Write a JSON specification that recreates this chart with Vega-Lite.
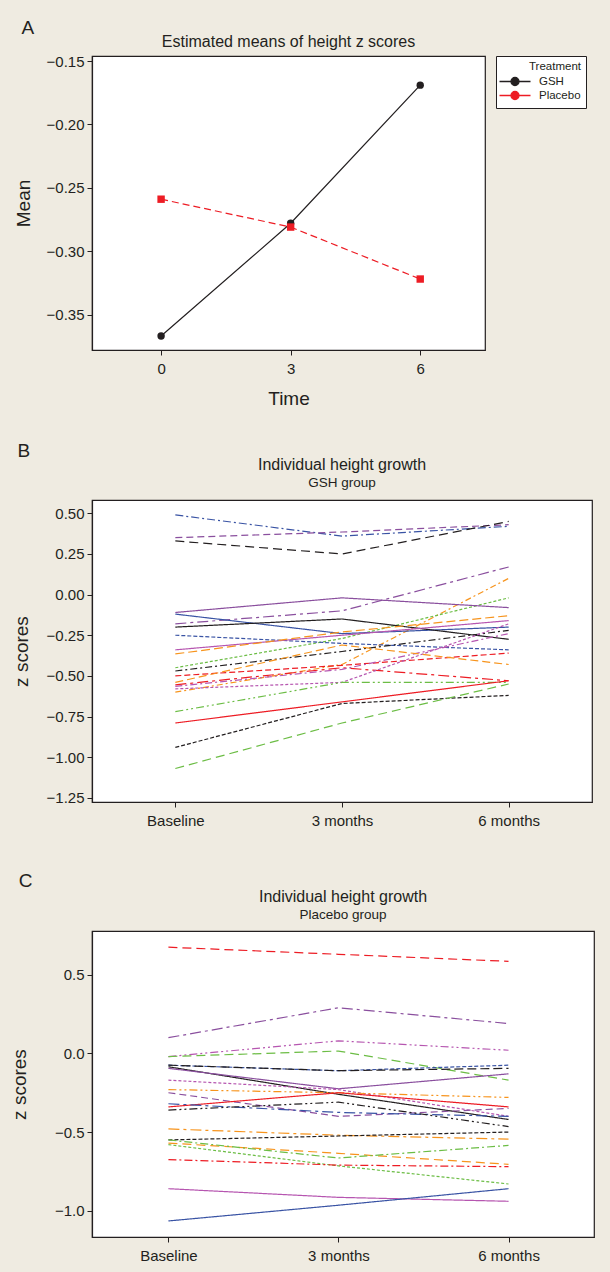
{
  "$schema": "https://vega.github.io/schema/vega-lite/v6.json",
  "background": "#efebe1",
  "padding": {"left": 9, "top": 19, "right": 15, "bottom": 8},
  "autosize": {"type": "pad"},
  "columns": 1,
  "spacing": 32,
  "resolve": {"scale": {"color": "independent", "strokeDash": "independent"}, "legend": {"color": "independent", "strokeDash": "independent"}},
  "datasets": {
    "means": [
      {"treatment": "GSH", "time": 0, "mean": -0.367},
      {"treatment": "GSH", "time": 3, "mean": -0.278},
      {"treatment": "GSH", "time": 6, "mean": -0.169},
      {"treatment": "Placebo", "time": 0, "mean": -0.259},
      {"treatment": "Placebo", "time": 3, "mean": -0.281},
      {"treatment": "Placebo", "time": 6, "mean": -0.322}
    ],
    "gsh": [
      {"id": "b01", "time": "Baseline", "z": 0.49}, {"id": "b01", "time": "3 months", "z": 0.36}, {"id": "b01", "time": "6 months", "z": 0.42},
      {"id": "b02", "time": "Baseline", "z": 0.35}, {"id": "b02", "time": "3 months", "z": 0.385}, {"id": "b02", "time": "6 months", "z": 0.43},
      {"id": "b03", "time": "Baseline", "z": 0.33}, {"id": "b03", "time": "3 months", "z": 0.25}, {"id": "b03", "time": "6 months", "z": 0.45},
      {"id": "b04", "time": "Baseline", "z": -0.18}, {"id": "b04", "time": "3 months", "z": -0.1}, {"id": "b04", "time": "6 months", "z": 0.17},
      {"id": "b05", "time": "Baseline", "z": -0.6}, {"id": "b05", "time": "3 months", "z": -0.43}, {"id": "b05", "time": "6 months", "z": 0.1},
      {"id": "b06", "time": "Baseline", "z": -0.45}, {"id": "b06", "time": "3 months", "z": -0.27}, {"id": "b06", "time": "6 months", "z": -0.02},
      {"id": "b07", "time": "Baseline", "z": -0.11}, {"id": "b07", "time": "3 months", "z": -0.02}, {"id": "b07", "time": "6 months", "z": -0.08},
      {"id": "b08", "time": "Baseline", "z": -0.12}, {"id": "b08", "time": "3 months", "z": -0.24}, {"id": "b08", "time": "6 months", "z": -0.2},
      {"id": "b09", "time": "Baseline", "z": -0.2}, {"id": "b09", "time": "3 months", "z": -0.15}, {"id": "b09", "time": "6 months", "z": -0.275},
      {"id": "b10", "time": "Baseline", "z": -0.25}, {"id": "b10", "time": "3 months", "z": -0.3}, {"id": "b10", "time": "6 months", "z": -0.34},
      {"id": "b11", "time": "Baseline", "z": -0.34}, {"id": "b11", "time": "3 months", "z": -0.25}, {"id": "b11", "time": "6 months", "z": -0.16},
      {"id": "b12", "time": "Baseline", "z": -0.365}, {"id": "b12", "time": "3 months", "z": -0.23}, {"id": "b12", "time": "6 months", "z": -0.13},
      {"id": "b13", "time": "Baseline", "z": -0.47}, {"id": "b13", "time": "3 months", "z": -0.35}, {"id": "b13", "time": "6 months", "z": -0.22},
      {"id": "b14", "time": "Baseline", "z": -0.5}, {"id": "b14", "time": "3 months", "z": -0.435}, {"id": "b14", "time": "6 months", "z": -0.36},
      {"id": "b15", "time": "Baseline", "z": -0.555}, {"id": "b15", "time": "3 months", "z": -0.45}, {"id": "b15", "time": "6 months", "z": -0.53},
      {"id": "b16", "time": "Baseline", "z": -0.58}, {"id": "b16", "time": "3 months", "z": -0.54}, {"id": "b16", "time": "6 months", "z": -0.18},
      {"id": "b17", "time": "Baseline", "z": -0.565}, {"id": "b17", "time": "3 months", "z": -0.46}, {"id": "b17", "time": "6 months", "z": -0.24},
      {"id": "b18", "time": "Baseline", "z": -0.72}, {"id": "b18", "time": "3 months", "z": -0.54}, {"id": "b18", "time": "6 months", "z": -0.54},
      {"id": "b19", "time": "Baseline", "z": -0.79}, {"id": "b19", "time": "3 months", "z": -0.66}, {"id": "b19", "time": "6 months", "z": -0.53},
      {"id": "b20", "time": "Baseline", "z": -0.94}, {"id": "b20", "time": "3 months", "z": -0.67}, {"id": "b20", "time": "6 months", "z": -0.62},
      {"id": "b21", "time": "Baseline", "z": -1.07}, {"id": "b21", "time": "3 months", "z": -0.79}, {"id": "b21", "time": "6 months", "z": -0.55},
      {"id": "b22", "time": "Baseline", "z": -0.54}, {"id": "b22", "time": "3 months", "z": -0.31}, {"id": "b22", "time": "6 months", "z": -0.43}
    ],
    "placebo": [
      {"id": "c01", "time": "Baseline", "z": 0.675}, {"id": "c01", "time": "3 months", "z": 0.63}, {"id": "c01", "time": "6 months", "z": 0.585},
      {"id": "c02", "time": "Baseline", "z": 0.1}, {"id": "c02", "time": "3 months", "z": 0.29}, {"id": "c02", "time": "6 months", "z": 0.19},
      {"id": "c03", "time": "Baseline", "z": -0.02}, {"id": "c03", "time": "3 months", "z": 0.08}, {"id": "c03", "time": "6 months", "z": 0.02},
      {"id": "c04", "time": "Baseline", "z": -0.02}, {"id": "c04", "time": "3 months", "z": 0.015}, {"id": "c04", "time": "6 months", "z": -0.17},
      {"id": "c05", "time": "Baseline", "z": -0.075}, {"id": "c05", "time": "3 months", "z": -0.11}, {"id": "c05", "time": "6 months", "z": -0.075},
      {"id": "c06", "time": "Baseline", "z": -0.075}, {"id": "c06", "time": "3 months", "z": -0.11}, {"id": "c06", "time": "6 months", "z": -0.095},
      {"id": "c07", "time": "Baseline", "z": -0.085}, {"id": "c07", "time": "3 months", "z": -0.26}, {"id": "c07", "time": "6 months", "z": -0.42},
      {"id": "c08", "time": "Baseline", "z": -0.095}, {"id": "c08", "time": "3 months", "z": -0.225}, {"id": "c08", "time": "6 months", "z": -0.13},
      {"id": "c09", "time": "Baseline", "z": -0.17}, {"id": "c09", "time": "3 months", "z": -0.23}, {"id": "c09", "time": "6 months", "z": -0.4},
      {"id": "c10", "time": "Baseline", "z": -0.23}, {"id": "c10", "time": "3 months", "z": -0.25}, {"id": "c10", "time": "6 months", "z": -0.28},
      {"id": "c11", "time": "Baseline", "z": -0.25}, {"id": "c11", "time": "3 months", "z": -0.4}, {"id": "c11", "time": "6 months", "z": -0.35},
      {"id": "c12", "time": "Baseline", "z": -0.34}, {"id": "c12", "time": "3 months", "z": -0.25}, {"id": "c12", "time": "6 months", "z": -0.34},
      {"id": "c13", "time": "Baseline", "z": -0.32}, {"id": "c13", "time": "3 months", "z": -0.375}, {"id": "c13", "time": "6 months", "z": -0.4},
      {"id": "c14", "time": "Baseline", "z": -0.36}, {"id": "c14", "time": "3 months", "z": -0.31}, {"id": "c14", "time": "6 months", "z": -0.465},
      {"id": "c15", "time": "Baseline", "z": -0.48}, {"id": "c15", "time": "3 months", "z": -0.52}, {"id": "c15", "time": "6 months", "z": -0.545},
      {"id": "c16", "time": "Baseline", "z": -0.55}, {"id": "c16", "time": "3 months", "z": -0.525}, {"id": "c16", "time": "6 months", "z": -0.5},
      {"id": "c17", "time": "Baseline", "z": -0.57}, {"id": "c17", "time": "3 months", "z": -0.635}, {"id": "c17", "time": "6 months", "z": -0.705},
      {"id": "c18", "time": "Baseline", "z": -0.55}, {"id": "c18", "time": "3 months", "z": -0.665}, {"id": "c18", "time": "6 months", "z": -0.585},
      {"id": "c19", "time": "Baseline", "z": -0.58}, {"id": "c19", "time": "3 months", "z": -0.715}, {"id": "c19", "time": "6 months", "z": -0.83},
      {"id": "c20", "time": "Baseline", "z": -0.675}, {"id": "c20", "time": "3 months", "z": -0.71}, {"id": "c20", "time": "6 months", "z": -0.72},
      {"id": "c21", "time": "Baseline", "z": -0.86}, {"id": "c21", "time": "3 months", "z": -0.915}, {"id": "c21", "time": "6 months", "z": -0.94},
      {"id": "c22", "time": "Baseline", "z": -1.065}, {"id": "c22", "time": "3 months", "z": -0.965}, {"id": "c22", "time": "6 months", "z": -0.86}
    ]
  },
  "concat": [
    {
      "title": {"text": "A", "anchor": "start", "frame": "bounds", "fontSize": 19, "fontWeight": "normal", "offset": -5, "dx": 8},
      "vconcat": [
        {
          "width": 393,
          "height": 294,
          "data": {"name": "means"},
          "title": {"text": "Estimated means of height z scores", "fontSize": 16, "offset": 4},
          "encoding": {
            "x": {"field": "time", "type": "quantitative", "scale": {"domain": [-1.6, 7.5], "nice": false, "zero": false}, "axis": {"values": [0, 3, 6], "title": "Time", "labelPadding": 6, "titlePadding": 13}},
            "y": {"field": "mean", "type": "quantitative", "scale": {"domain": [-0.378, -0.146], "nice": false, "zero": false}, "axis": {"values": [-0.35, -0.3, -0.25, -0.2, -0.15], "format": ".2f", "title": "Mean", "titlePadding": 13}}
          },
          "layer": [
            {
              "transform": [{"filter": "datum.treatment === 'GSH'"}],
              "mark": {"type": "line", "strokeWidth": 1.2},
              "encoding": {"color": {"field": "treatment", "type": "nominal", "title": "Treatment", "scale": {"domain": ["GSH", "Placebo"], "range": ["#231f20", "#ed1c24"]}}}
            },
            {
              "transform": [{"filter": "datum.treatment === 'Placebo'"}],
              "mark": {"type": "line", "strokeWidth": 1.2, "strokeDash": [7, 4]},
              "encoding": {"color": {"field": "treatment", "type": "nominal", "title": "Treatment", "scale": {"domain": ["GSH", "Placebo"], "range": ["#231f20", "#ed1c24"]}}}
            },
            {
              "transform": [{"filter": "datum.treatment === 'GSH'"}],
              "mark": {"type": "point", "shape": "circle", "filled": true, "size": 55, "opacity": 1},
              "encoding": {"color": {"field": "treatment", "type": "nominal", "title": "Treatment", "scale": {"domain": ["GSH", "Placebo"], "range": ["#231f20", "#ed1c24"]},
                "legend": {"title": "Treatment", "orient": "right", "offset": 10, "padding": 5, "rowPadding": 0, "titlePadding": 3, "symbolOffset": 8, "labelOffset": 18, "symbolSize": 100, "symbolStrokeWidth": 1.3,
                  "symbolType": "M-3.1,0H-0.8M0.8,0H3.1M-0.8,0A0.8,0.8,0,1,1,0.8,0A0.8,0.8,0,1,1,-0.8,0Z",
                  "titleAnchor": "end", "titleFontSize": 11.5, "titleFontWeight": "normal", "labelFontSize": 11.5, "strokeColor": "#231f20", "fillColor": "white",
                  "encode": {"symbols": {
                    "shape": {"value": {"expr": "datum.value === 'GSH' ? 'M-3.1,0H-0.8M0.8,0H3.1M-0.8,0A0.8,0.8,0,1,1,0.8,0A0.8,0.8,0,1,1,-0.8,0Z' : 'M-3.1,0H-0.75M0.75,0H3.1M-0.75,-0.75H0.75V0.75H-0.75Z'"}},
                    "strokeDash": {"value": [1, 0]},
                    "opacity": {"value": 1}
                  }}
                }}}
            },
            {
              "transform": [{"filter": "datum.treatment === 'Placebo'"}],
              "mark": {"type": "point", "shape": "square", "filled": true, "size": 55, "opacity": 1},
              "encoding": {"color": {"field": "treatment", "type": "nominal", "title": "Treatment", "scale": {"domain": ["GSH", "Placebo"], "range": ["#231f20", "#ed1c24"]}}}
            }
          ]
        }
      ]
    },
    {
      "spacing": 42,
      "resolve": {"scale": {"color": "independent", "strokeDash": "independent"}, "legend": {"color": "independent", "strokeDash": "independent"}},
      "vconcat": [
        {
          "title": {"text": "B", "anchor": "start", "frame": "bounds", "fontSize": 19, "fontWeight": "normal", "offset": -5, "dx": 6},
          "vconcat": [
            {
              "width": 500,
              "height": 302,
              "data": {"name": "gsh"},
              "title": {"text": "Individual height growth", "subtitle": "GSH group", "fontSize": 16, "subtitleFontSize": 13.5, "subtitlePadding": 3, "offset": 11},
              "mark": {"type": "line", "strokeWidth": 1.2},
              "encoding": {
                "x": {"field": "time", "type": "ordinal", "sort": ["Baseline", "3 months", "6 months"], "scale": {"type": "point", "padding": 0.5}, "axis": {"title": null, "labelAngle": 0, "labelPadding": 6}},
                "y": {"field": "z", "type": "quantitative", "scale": {"domain": [-1.276, 0.582], "nice": false, "zero": false}, "axis": {"values": [-1.25, -1, -0.75, -0.5, -0.25, 0, 0.25, 0.5], "format": ".2f", "title": "z scores", "titlePadding": 15}},
                "color": {"field": "id", "type": "nominal", "legend": null, "scale": {
                  "domain": ["b01","b02","b03","b04","b05","b06","b07","b08","b09","b10","b11","b12","b13","b14","b15","b16","b17","b18","b19","b20","b21","b22"],
                  "range": ["#3953a4","#8a4f9e","#231f20","#8a4f9e","#f7941d","#6cbd45","#8a4f9e","#3953a4","#231f20","#3953a4","#b656b0","#f7941d","#231f20","#ed1c24","#ed1c24","#b656b0","#b656b0","#6cbd45","#ed1c24","#231f20","#6cbd45","#f7941d"]}},
                "strokeDash": {"field": "id", "type": "nominal", "legend": null, "scale": {
                  "domain": ["b01","b02","b03","b04","b05","b06","b07","b08","b09","b10","b11","b12","b13","b14","b15","b16","b17","b18","b19","b20","b21","b22"],
                  "range": [[8,3,2,3],[7,4],[9,5],[11,4,3,4],[6,3,2,3],[3,2],[1,0],[1,0],[1,0],[4,2],[1,0],[9,4],[7,3,2,3],[6,3],[11,4,3,4],[3,2],[7,3,2,3],[8,3,2,3,2,3],[1,0],[4,2],[9,5],[8,4]]}}
              }
            }
          ]
        },
        {
          "title": {"text": "C", "anchor": "start", "frame": "bounds", "fontSize": 19, "fontWeight": "normal", "offset": -3, "dx": 9},
          "vconcat": [
            {
              "width": 502,
              "height": 306,
              "data": {"name": "placebo"},
              "title": {"text": "Individual height growth", "subtitle": "Placebo group", "fontSize": 16, "subtitleFontSize": 13.5, "subtitlePadding": 3, "offset": 10},
              "mark": {"type": "line", "strokeWidth": 1.2},
              "encoding": {
                "x": {"field": "time", "type": "ordinal", "sort": ["Baseline", "3 months", "6 months"], "scale": {"type": "point", "padding": 0.476, "align": 0.472}, "axis": {"title": null, "labelAngle": 0, "labelPadding": 6}},
                "y": {"field": "z", "type": "quantitative", "scale": {"domain": [-1.167, 0.778], "nice": false, "zero": false}, "axis": {"values": [-1, -0.5, 0, 0.5], "format": ".1f", "title": "z scores", "titlePadding": 25}},
                "color": {"field": "id", "type": "nominal", "legend": null, "scale": {
                  "domain": ["c01","c02","c03","c04","c05","c06","c07","c08","c09","c10","c11","c12","c13","c14","c15","c16","c17","c18","c19","c20","c21","c22"],
                  "range": ["#ed1c24","#8a4f9e","#b656b0","#6cbd45","#3953a4","#231f20","#231f20","#8a4f9e","#b656b0","#f7941d","#8a4f9e","#ed1c24","#3953a4","#231f20","#f7941d","#231f20","#f7941d","#6cbd45","#6cbd45","#ed1c24","#b656b0","#3953a4"]}},
                "strokeDash": {"field": "id", "type": "nominal", "legend": null, "scale": {
                  "domain": ["c01","c02","c03","c04","c05","c06","c07","c08","c09","c10","c11","c12","c13","c14","c15","c16","c17","c18","c19","c20","c21","c22"],
                  "range": [[9,5],[11,4,3,4],[8,3,2,3,2,3],[9,5],[4,2],[9,4],[1,0],[1,0],[3,2],[8,3,2,3,2,3],[7,4],[1,0],[11,4,3,4],[8,3,2,3,2,3],[11,4,3,4],[4,2],[9,5],[8,3,2,3],[3,2],[8,3,2,3],[1,0],[1,0]]}}
              }
            }
          ]
        }
      ]
    }
  ],
  "config": {
    "font": "Liberation Sans",
    "view": {"fill": "white", "stroke": "#231f20", "strokeWidth": 1.2},
    "title": {"fontWeight": "normal", "color": "#231f20", "subtitleColor": "#231f20", "font": "Liberation Sans", "subtitleFont": "Liberation Sans"},
    "axis": {"grid": false, "labelFontSize": 15, "titleFontSize": 19, "titleFontWeight": "normal", "labelColor": "#231f20", "titleColor": "#231f20", "domainColor": "#231f20", "tickColor": "#231f20", "tickSize": 5, "labelPadding": 3, "domainWidth": 1.2},
    "legend": {"labelColor": "#231f20", "titleColor": "#231f20"}
  }
}
